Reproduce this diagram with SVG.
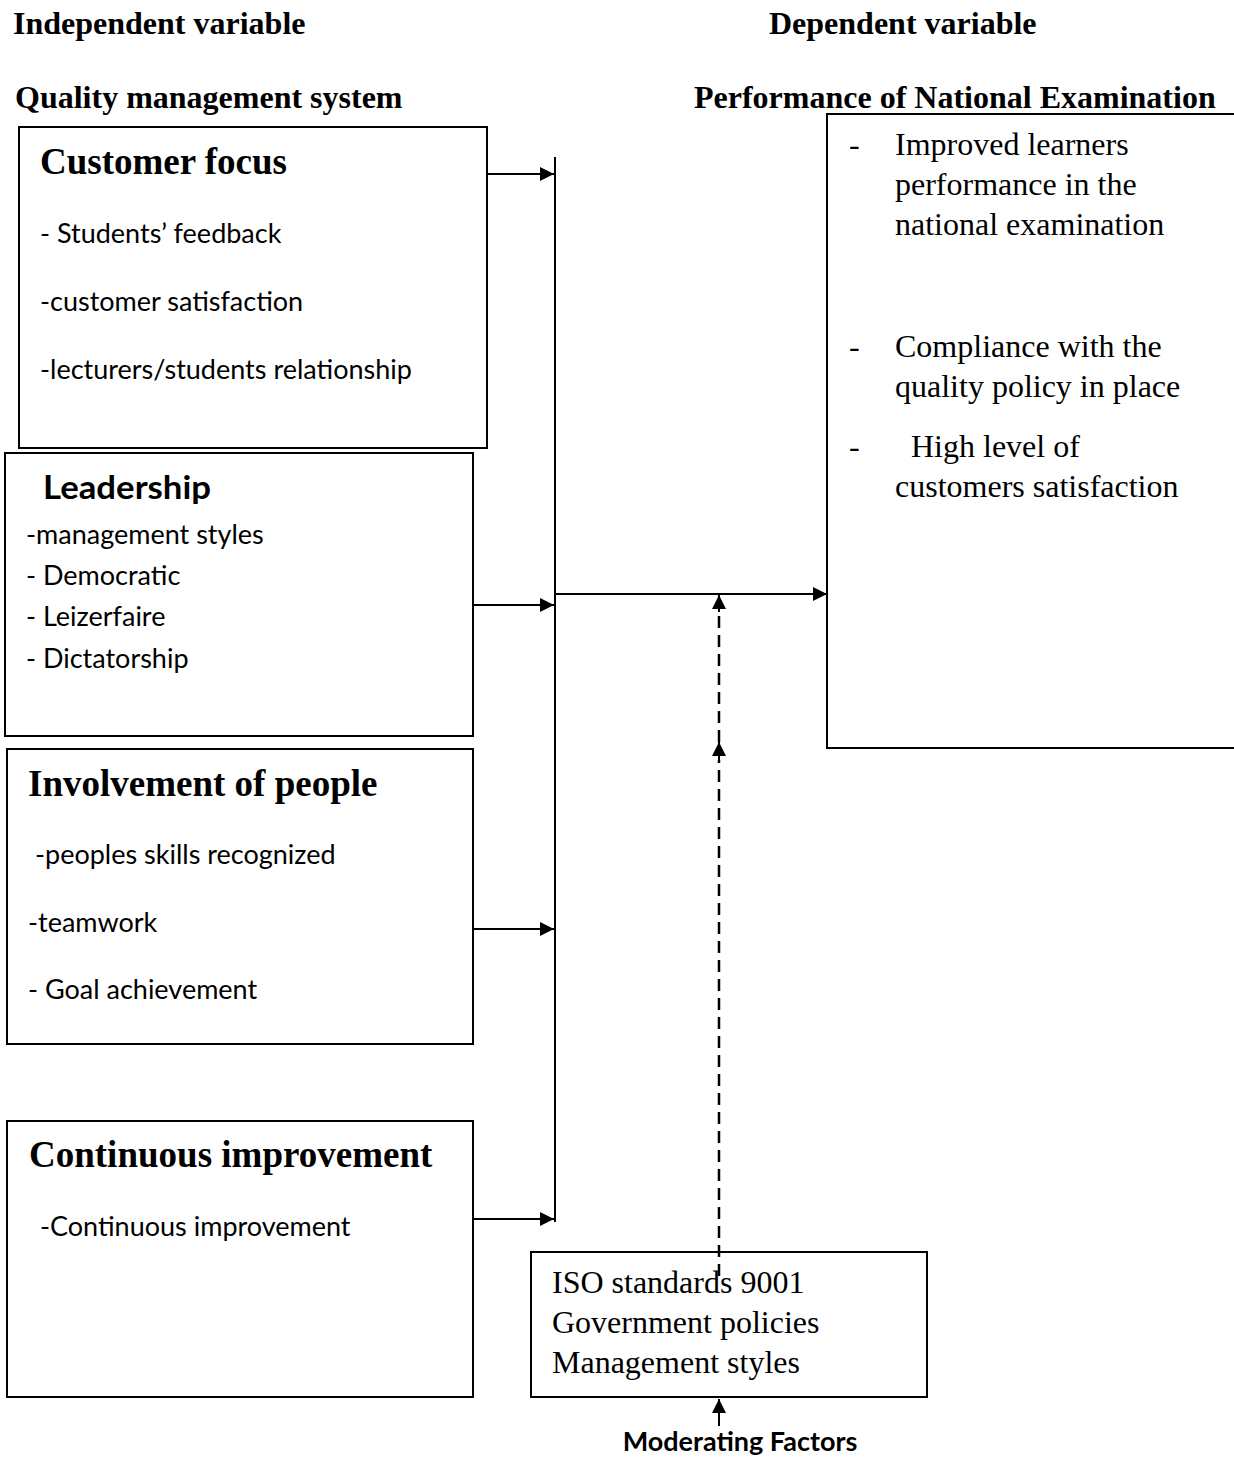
<svg xmlns="http://www.w3.org/2000/svg" width="1234" height="1461" viewBox="0 0 1234 1461">
<style>
.hdr{font-family:"Liberation Serif",serif;font-weight:bold;font-size:32px;fill:#000}
.ttl{font-family:"Liberation Serif",serif;font-weight:bold;font-size:37px;fill:#000}
.ttls{font-family:Lato,"Liberation Sans",sans-serif;font-weight:bold;font-size:33px;fill:#000}
.item{font-family:Lato,"Liberation Sans",sans-serif;font-size:27px;fill:#000}
.ser{font-family:"Liberation Serif",serif;font-size:32px;fill:#000}
.box{fill:#fff;stroke:#000;stroke-width:2}
.ln{stroke:#000;stroke-width:2;fill:none}
.dash{stroke:#000;stroke-width:2.5;fill:none;stroke-dasharray:12 7}
.mod{font-family:Lato,"Liberation Sans",sans-serif;font-weight:bold;font-size:27px;fill:#000}
</style>
<defs>
<marker id="ah" viewBox="0 0 10 10" refX="10" refY="5" markerWidth="7" markerHeight="7" markerUnits="strokeWidth" orient="auto">
<path d="M0,0 L10,5 L0,10 z" fill="#000"/>
</marker>
</defs>
<rect width="1234" height="1461" fill="#fff"/>
<g id="headers">
<text class="hdr" x="13" y="34">Independent variable</text>
<text class="hdr" x="769" y="34">Dependent variable</text>
<text class="hdr" x="15" y="108">Quality management system</text>
<text class="hdr" x="694" y="108">Performance of National Examination</text>
</g>
<g id="customer-focus">
<rect class="box" x="19" y="127" width="468" height="321"/>
<text class="ttl" x="40" y="174">Customer focus</text>
<text class="item" x="40" y="243">- Students’ feedback</text>
<text class="item" x="40" y="311">-customer satisfaction</text>
<text class="item" x="40" y="379">-lecturers/students relationship</text>
</g>
<g id="leadership">
<rect class="box" x="5" y="453" width="468" height="283"/>
<text class="ttls" x="43" y="499" textLength="168" lengthAdjust="spacingAndGlyphs">Leadership</text>
<text class="item" x="26" y="544">-management styles</text>
<text class="item" x="26" y="585">- Democratic</text>
<text class="item" x="26" y="626">- Leizerfaire</text>
<text class="item" x="26" y="668">- Dictatorship</text>
</g>
<g id="involvement">
<rect class="box" x="7" y="749" width="466" height="295"/>
<text class="ttl" x="28" y="796">Involvement of people</text>
<text class="item" x="35" y="864">-peoples skills recognized</text>
<text class="item" x="28" y="932">-teamwork</text>
<text class="item" x="28" y="999">- Goal achievement</text>
</g>
<g id="continuous-improvement">
<rect class="box" x="7" y="1121" width="466" height="276"/>
<text class="ttl" x="29" y="1167">Continuous improvement</text>
<text class="item" x="40" y="1236">-Continuous improvement</text>
</g>
<g id="performance">
<path class="ln" d="M1234,114 H827 V748 H1234"/>
<text class="ser" x="849" y="155">-</text>
<text class="ser" x="895" y="155">Improved learners</text>
<text class="ser" x="895" y="195">performance in the</text>
<text class="ser" x="895" y="235">national examination</text>
<text class="ser" x="849" y="357">-</text>
<text class="ser" x="895" y="357">Compliance with the</text>
<text class="ser" x="895" y="397">quality policy in place</text>
<text class="ser" x="849" y="457">-</text>
<text class="ser" x="911" y="457">High level of</text>
<text class="ser" x="895" y="497">customers satisfaction</text>
</g>
<g id="moderating">
<rect class="box" x="531" y="1252" width="396" height="145"/>
<text class="ser" x="552" y="1293">ISO standards 9001</text>
<text class="ser" x="552" y="1333">Government policies</text>
<text class="ser" x="552" y="1373">Management styles</text>
<text class="mod" x="740" y="1451" text-anchor="middle">Moderating Factors</text>
</g>
<g id="connectors">
<line class="ln" x1="555" y1="157" x2="555" y2="1222"/>
<line class="ln" x1="487" y1="174" x2="554" y2="174" marker-end="url(#ah)"/>
<line class="ln" x1="473" y1="605" x2="554" y2="605" marker-end="url(#ah)"/>
<line class="ln" x1="473" y1="929" x2="554" y2="929" marker-end="url(#ah)"/>
<line class="ln" x1="473" y1="1219" x2="554" y2="1219" marker-end="url(#ah)"/>
<line class="ln" x1="555" y1="594" x2="827" y2="594" marker-end="url(#ah)"/>
<line class="dash" x1="719" y1="1276" x2="719" y2="760"/>
<line class="ln" x1="719" y1="760" x2="719" y2="742" marker-end="url(#ah)"/>
<line class="dash" x1="719" y1="742" x2="719" y2="612"/>
<line class="ln" x1="719" y1="612" x2="719" y2="595" marker-end="url(#ah)"/>
<line class="ln" x1="719" y1="1426" x2="719" y2="1399" marker-end="url(#ah)"/>
</g>
</svg>
